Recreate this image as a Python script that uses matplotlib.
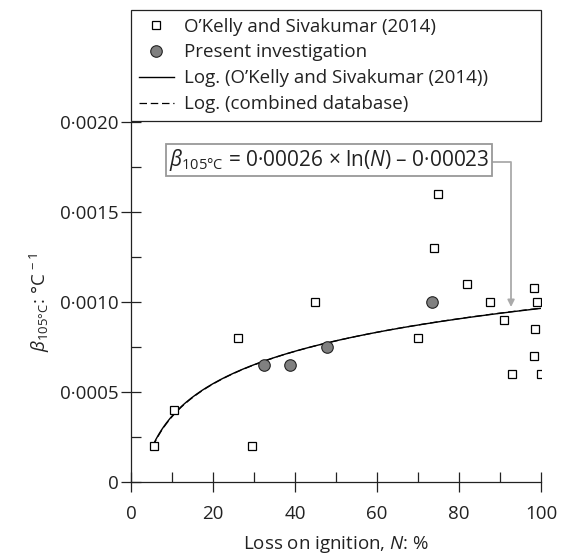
import numpy as np
import matplotlib
matplotlib.use('Agg')
import matplotlib.pyplot as plt
from matplotlib.ticker import FuncFormatter, MultipleLocator

plt.rcParams['font.family'] = ['Open Sans', 'DejaVu Sans']
plt.rcParams['mathtext.fontset'] = 'custom'
plt.rcParams['mathtext.rm'] = 'Open Sans'
plt.rcParams['mathtext.it'] = 'Open Sans:italic'
plt.rcParams['mathtext.bf'] = 'Open Sans:bold'

#O'Kelly and Sivakumar (2014)
N_ok = [5.5, 10.5, 26, 29.5, 45, 70, 74, 75, 82, 87.5, 91, 93, 98.3, 98.5, 98.3, 99, 100]
b_ok = [0.0002, 0.0004, 0.0008, 0.0002, 0.0010, 0.0008, 0.0013, 0.0016, 0.0011,
        0.0010, 0.0009, 0.0006, 0.00108, 0.00085, 0.0007, 0.0010, 0.0006]

#present investigation
N_pi = [32.4, 38.8, 47.9, 73.4]
b_pi = [0.00065, 0.00065, 0.00075, 0.0010]

#log fits: beta = a*ln(N) + c
fit_ok = [0.00026, -0.00023]
fit_all = [0.000262, -0.000238]
N_range = [5.3, 100]

fs = 13.5
ink = '#222222'

fig = plt.figure(figsize=(5.62, 5.59), dpi=100)
ax = fig.add_axes([0.2331, 0.1369, 0.7295, 0.644])

ax.plot(N_ok, b_ok, 's', ms=6.3, mfc='white', mec='black', mew=0.9,
        label="O\u2019Kelly and Sivakumar (2014)", zorder=4)
ax.plot(N_pi, b_pi, 'o', ms=8.3, mfc='#808080', mec=ink, mew=0.8,
        label='Present investigation', zorder=4)

NN = np.linspace(N_range[0] + 0.2, N_range[1], 300)
ax.plot(NN, fit_ok[0]*np.log(NN) + fit_ok[1], color='black', lw=1.0,
        label="Log. (O\u2019Kelly and Sivakumar (2014))", zorder=3)
NN2 = np.linspace(N_range[0], N_range[1], 300)
ax.plot(NN2, fit_all[0]*np.log(NN2) + fit_all[1], color='black', lw=0.9,
        ls=(0, (6, 3)), label='Log. (combined database)', zorder=3)

ax.set_xlim(0, 100)
ax.set_ylim(0, 0.002)
ax.xaxis.set_major_locator(MultipleLocator(20))
ax.xaxis.set_minor_locator(MultipleLocator(10))
ax.yaxis.set_major_locator(MultipleLocator(0.0005))
ax.yaxis.set_minor_locator(MultipleLocator(0.00025))

def dotfmt(v, pos):
    if abs(v) < 1e-12:
        return '0'
    return ('%.4f' % v).replace('.', '\u00b7')

ax.yaxis.set_major_formatter(FuncFormatter(dotfmt))
ax.tick_params(which='major', direction='inout', length=14, width=0.9,
               labelsize=fs, colors=ink)
ax.tick_params(which='minor', direction='in', length=7, width=0.9, colors=ink)
ax.tick_params(axis='y', which='major', pad=2)
ax.tick_params(axis='x', which='major', pad=9)

for s in ['top', 'right']:
    ax.spines[s].set_visible(False)
for s in ['left', 'bottom']:
    ax.spines[s].set_linewidth(0.9)
    ax.spines[s].set_color(ink)

ax.set_xlabel('Loss on ignition, $N$: %', fontsize=fs, color=ink, labelpad=8)
ax.set_ylabel('$\\beta_{\\mathrm{105\u00b0C}}$: \u00b0C$^{\\,-1}$', fontsize=fs,
              color=ink, labelpad=6)

#equation box + arrow
ax.text(48.3, 0.00179, '$\\beta_{\\mathrm{105\u00b0C}}$ = 0\u00b700026 \u00d7 ln($N$) \u2013 0\u00b700023',
        fontsize=15, ha='center', va='center', color=ink, zorder=6,
        bbox=dict(boxstyle='square,pad=0.15', fc='white', ec='#999999', lw=1.3))
ax.annotate('', xy=(92.7, 0.000975), xytext=(80, 0.00178),
            arrowprops=dict(arrowstyle='-|>', color='#aaaaaa', lw=1.3,
                            connectionstyle='angle,angleA=0,angleB=90,rad=0',
                            shrinkA=0, shrinkB=0, mutation_scale=10), zorder=2)

leg = fig.legend(loc='upper left', bbox_to_anchor=(0.2331, 0.0, 0.7295, 1 - 10/559),
                 mode='expand', fontsize=fs, frameon=True, fancybox=False,
                 edgecolor=ink, framealpha=1, borderpad=0.4,
                 labelspacing=0.42, handlelength=1.9, handletextpad=0.55,
                 borderaxespad=0)
leg.get_frame().set_linewidth(0.9)
for t in leg.get_texts():
    t.set_color(ink)

fig.savefig('out.png', dpi=100)
